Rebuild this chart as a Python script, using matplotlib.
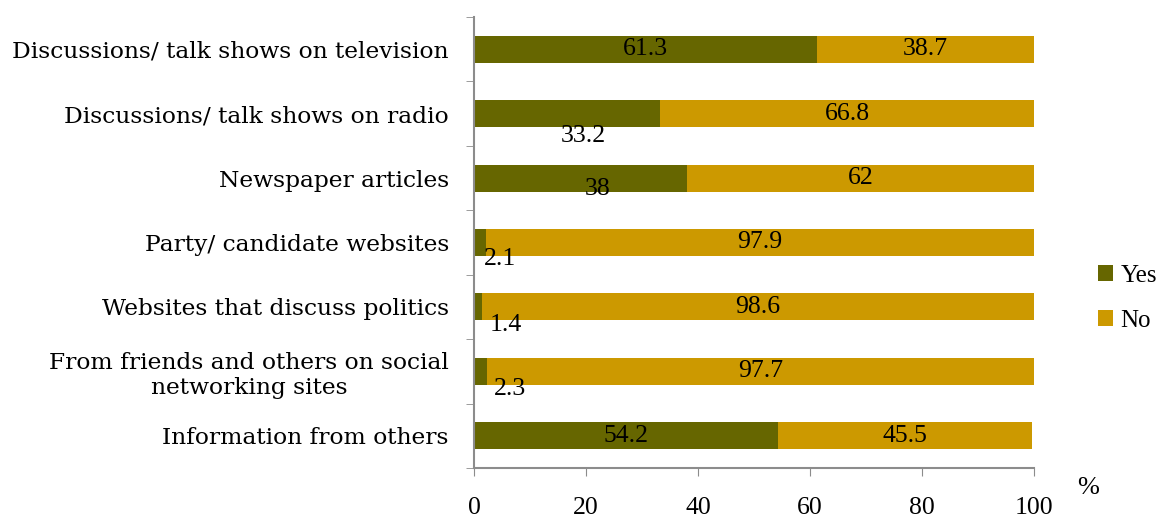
import matplotlib
matplotlib.use("Agg")
import matplotlib.pyplot as plt

categories = [
    "Discussions/ talk shows on television",
    "Discussions/ talk shows on radio",
    "Newspaper articles",
    "Party/ candidate websites",
    "Websites that discuss politics",
    "From friends and others on social\nnetworking sites",
    "Information from others",
]
yes_values = [61.3, 33.2, 38, 2.1, 1.4, 2.3, 54.2]
no_values = [38.7, 66.8, 62, 97.9, 98.6, 97.7, 45.5]
series_names = ["Yes", "No"]
x_ticks = [0, 20, 40, 60, 80, 100]

YES_COLOR = "#666600"
NO_COLOR = "#CC9900"
SPINE = "#8c8c8c"
LABEL_FONT = ["DejaVu Serif"]
NUM_FONT = ["Liberation Serif", "DejaVu Serif"]

plt.rcParams["font.family"] = NUM_FONT

fig = plt.figure(figsize=(11.61, 5.17), dpi=100)
ax = fig.add_axes([474 / 1161, 49 / 517, 560 / 1161, 451 / 517])

pos = list(range(len(categories)))[::-1]
h = 0.42
bars_yes = ax.barh(pos, yes_values, height=h, color=YES_COLOR, label=series_names[0])
bars_no = ax.barh(pos, no_values, left=yes_values, height=h, color=NO_COLOR, label=series_names[1])

# label offsets (points) for the Yes labels that would not fit inside their bar
yes_offsets = {1: (12, -16), 2: (12.5, -8), 3: (14.5, -12), 4: (20, -13), 5: (21, -13)}
for i, (y, yv, nv) in enumerate(zip(pos, yes_values, no_values)):
    dx, dy = yes_offsets.get(i, (0, 0))
    ax.annotate(f"{yv:g}", (yv / 2, y), xytext=(dx, dy), textcoords="offset points",
                ha="center", va="center", fontsize=18.5, color="black")
    ax.annotate(f"{nv:g}", (yv + nv / 2, y), ha="center", va="center",
                fontsize=18.5, color="black")

ax.set_xlim(0, 100)
ax.set_ylim(-0.5, len(categories) - 0.5)
ax.set_xticks(x_ticks)
ax.set_xticklabels([str(t) for t in x_ticks], fontsize=18.5)
ax.set_yticks(pos)
ax.set_yticklabels(categories, fontsize=16.8, multialignment="center", family=LABEL_FONT)
ax.tick_params(axis="y", length=0, pad=18)
ax.tick_params(axis="x", length=6, color=SPINE, pad=15)
# category separators on the value axis
ax.set_yticks([p + 0.5 for p in range(-1, len(categories))], minor=True)
ax.tick_params(axis="y", which="minor", length=6, color=SPINE)

for s in ["top", "right"]:
    ax.spines[s].set_visible(False)
for s in ["left", "bottom"]:
    ax.spines[s].set_color(SPINE)
    ax.spines[s].set_linewidth(1.5)

fig.text(1088 / 1161, 1 - 488 / 517, "%", fontsize=19, ha="center", va="center")

leg = fig.legend(handles=[bars_yes, bars_no], labels=series_names,
                 loc="upper left", bbox_to_anchor=(1098 / 1161, 1 - 265 / 517),
                 frameon=False, borderpad=0, borderaxespad=0,
                 fontsize=18, handlelength=0.6, handleheight=0.6, handletextpad=0.3,
                 labelspacing=0.92)

fig.savefig("out.png", dpi=100)
